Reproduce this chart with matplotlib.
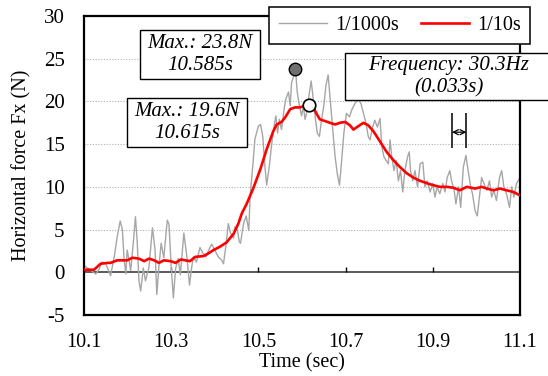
import numpy as np
import matplotlib
matplotlib.use('Agg')
import matplotlib.pyplot as plt
from matplotlib.patches import Rectangle

# 1/1000s raw signal
raw_t = [10.100, 10.111, 10.127, 10.134, 10.142, 10.150, 10.161, 10.170, 10.176, 10.183,
         10.188, 10.192, 10.196, 10.199, 10.203, 10.207, 10.213, 10.218, 10.222, 10.226,
         10.230, 10.236, 10.241, 10.249, 10.257, 10.263, 10.267, 10.272, 10.277, 10.283,
         10.291, 10.295, 10.300, 10.305, 10.310, 10.316, 10.321, 10.329, 10.336, 10.342,
         10.347, 10.351, 10.358, 10.366, 10.372, 10.380, 10.385, 10.393, 10.401, 10.408,
         10.416, 10.420, 10.426, 10.431, 10.436, 10.443, 10.446, 10.452, 10.456, 10.459,
         10.466, 10.472, 10.478, 10.481, 10.487, 10.492, 10.500, 10.505, 10.510, 10.515,
         10.519, 10.525, 10.530, 10.536, 10.540, 10.544, 10.548, 10.553, 10.559, 10.563,
         10.569, 10.573, 10.576, 10.580, 10.585, 10.589, 10.594, 10.599, 10.603, 10.607,
         10.611, 10.616, 10.621, 10.624, 10.630, 10.635, 10.640, 10.645, 10.650, 10.655,
         10.660, 10.670, 10.676, 10.681, 10.686, 10.691, 10.696, 10.702, 10.709, 10.714,
         10.722, 10.729, 10.735, 10.741, 10.747, 10.752, 10.756, 10.762, 10.767, 10.773,
         10.779, 10.783, 10.788, 10.793, 10.798, 10.802, 10.806, 10.811, 10.816, 10.821,
         10.826, 10.831, 10.836, 10.842, 10.846, 10.849, 10.854, 10.859, 10.865, 10.871,
         10.877, 10.882, 10.887, 10.894, 10.900, 10.905, 10.910, 10.916, 10.923, 10.928,
         10.933, 10.939, 10.943, 10.949, 10.953, 10.959, 10.964, 10.970, 10.976, 10.981,
         10.987, 10.991, 10.997, 11.002, 11.007, 11.012, 11.017, 11.024, 11.030, 11.035,
         11.040, 11.046, 11.053, 11.058, 11.063, 11.069, 11.076, 11.081, 11.086, 11.092,
         11.098]
raw_f = [0.8, 0.4, -0.2, 0.3, 1.2, 1.0, -0.4, 2.0, 4.1, 6.0,
         5.0, 1.5, -0.2, 2.6, 1.5, 0.2, 3.4, 6.5, 3.6, -1.0,
         -2.2, 0.5, -1.0, 0.6, 5.2, 2.6, -2.6, 0.8, 3.4, 1.7,
         6.1, 5.6, 0.6, -3.0, 0.4, 1.6, -0.3, 4.6, 1.8, -1.5,
         0.6, 1.8, 1.2, 2.9, 2.3, 1.8, 2.5, 3.3, 2.5, 1.8,
         1.4, 1.0, 3.3, 5.7, 4.6, 4.0, 5.3, 4.9, 3.6, 3.4,
         5.7, 6.6, 4.9, 8.9, 12.4, 15.6, 17.1, 17.3, 15.9, 12.4,
         10.2, 12.4, 14.8, 17.1, 18.3, 16.3, 17.9, 16.7, 19.1, 20.3,
         21.1, 19.5, 22.2, 22.8, 23.8, 21.1, 19.5, 18.3, 19.5, 17.9,
         18.7, 20.7, 22.4, 21.1, 18.3, 16.3, 15.9, 17.9, 19.5, 21.9,
         23.1, 17.0, 13.5, 11.5, 10.2, 13.1, 16.3, 18.6, 18.2, 19.0,
         19.8, 20.2, 19.8, 18.6, 17.4, 15.9, 15.5, 17.0, 17.8, 17.0,
         18.0, 14.7, 13.5, 13.1, 12.7, 15.5, 13.5, 11.9, 13.1, 10.7,
         11.9, 9.4, 11.9, 13.5, 14.1, 11.9, 10.7, 11.9, 10.0, 12.7,
         12.9, 10.0, 10.7, 9.4, 10.4, 8.8, 10.0, 9.2, 10.4, 9.4,
         11.1, 11.9, 10.7, 9.6, 8.0, 10.0, 7.6, 12.3, 13.7, 11.9,
         10.0, 9.2, 7.2, 6.6, 8.8, 11.1, 10.4, 9.6, 10.7, 8.8,
         9.6, 8.4, 11.1, 11.9, 10.0, 9.2, 7.6, 10.0, 8.8, 10.4,
         10.9]

# 1/10s averaged signal
avg_t = [10.100, 10.123, 10.138, 10.154, 10.161, 10.176, 10.199, 10.211, 10.226, 10.238,
         10.249, 10.261, 10.272, 10.283, 10.299, 10.310, 10.322, 10.343, 10.355, 10.374,
         10.385, 10.397, 10.412, 10.427, 10.443, 10.454, 10.462, 10.473, 10.488, 10.504,
         10.519, 10.534, 10.542, 10.553, 10.561, 10.573, 10.584, 10.595, 10.607, 10.615,
         10.626, 10.634, 10.641, 10.653, 10.664, 10.676, 10.687, 10.699, 10.710, 10.718,
         10.729, 10.741, 10.752, 10.764, 10.779, 10.794, 10.810, 10.825, 10.840, 10.855,
         10.871, 10.894, 10.916, 10.932, 10.947, 10.962, 10.978, 10.997, 11.012, 11.024,
         11.039, 11.054, 11.069, 11.085, 11.100]
avg_f = [0.3, 0.3, 1.0, 1.1, 1.1, 1.4, 1.4, 1.7, 1.6, 1.3,
         1.6, 1.4, 1.1, 1.4, 1.3, 1.1, 1.5, 1.3, 1.8, 1.9,
         2.2, 2.6, 3.0, 3.5, 4.5, 5.7, 6.9, 8.0, 9.8, 12.0,
         14.4, 16.5, 17.3, 17.6, 18.1, 19.1, 19.3, 19.3, 19.5, 19.6,
         19.3, 18.5, 17.9, 17.7, 17.5, 17.3, 17.5, 17.6, 17.2, 16.7,
         17.1, 17.5, 17.2, 16.5, 15.3, 14.1, 13.1, 12.3, 11.6, 11.1,
         10.7, 10.3, 10.0, 10.0, 9.9, 9.6, 10.0, 9.8, 10.0, 9.8,
         9.6, 9.8, 9.6, 9.4, 9.0]

max_raw = (10.585, 23.8)
max_avg = (10.615, 19.6)
period = (10.944, 10.977)

xticks = [10.1, 10.3, 10.5, 10.7, 10.9, 11.1]
yticks = [-5, 0, 5, 10, 15, 20, 25, 30]

plt.rcParams['font.family'] = ['Liberation Serif', 'DejaVu Serif']
plt.rcParams['axes.unicode_minus'] = False

W, H = 548, 376
fig = plt.figure(figsize=(W / 100, H / 100), dpi=100)
ax = fig.add_axes([84 / W, 1 - 315 / H, 436 / W, 299 / H])

for y in [5, 10, 15, 20, 25]:
    ax.axhline(y, color='#b0b0b0', lw=0.8, ls=(0, (1, 1.5)), zorder=0)
ax.axhline(0, color='#5a5a5a', lw=1.4, zorder=1)
ax.vlines([10.3, 10.5, 10.7, 10.9], 0, 0.6, color='black', lw=1.0, zorder=1)

ax.plot(raw_t, raw_f, color='#a6a6a6', lw=1.0, label='1/1000s', zorder=2)
ax.plot(avg_t, avg_f, color='#ff0000', lw=1.9, label='1/10s', zorder=3)

ax.plot(*max_raw, 'o', ms=9, mfc='#707070', mec='black', mew=1.0, zorder=5)
ax.plot(*max_avg, 'o', ms=9, mfc='white', mec='black', mew=1.2, zorder=5)

# period marker
ax.vlines(period, 14.5, 18.6, color='black', lw=1.1, zorder=4)
ax.annotate('', xy=(period[0], 16.4), xytext=(period[1], 16.4),
            arrowprops=dict(arrowstyle='<->', color='black', lw=0.9,
                            shrinkA=0, shrinkB=0, mutation_scale=9))


# text boxes, placed in figure pixels
def text_box(x0, y0, x1, y1, txt, cx=None):
    fig.patches.append(Rectangle((x0 / W, 1 - y1 / H), (x1 - x0) / W, (y1 - y0) / H,
                                 transform=fig.transFigure, fc='white', ec='black',
                                 lw=1.0, zorder=6))
    cx = (x0 + x1) / 2 if cx is None else cx
    fig.text(cx / W, 1 - (y0 + y1) / 2 / H, txt, ha='center', va='center',
             fontsize=15, style='italic', linespacing=1.2, zorder=7)


text_box(140, 30, 260, 79, 'Max.: 23.8N\n10.585s')
text_box(127, 98, 247, 147, 'Max.: 19.6N\n10.615s')
text_box(345, 53, 560, 100, 'Frequency: 30.3Hz\n(0.033s)', cx=448.5)

ax.set_xlim(10.1, 11.1)
ax.set_ylim(-5, 30)
ax.set_xticks(xticks)
ax.set_xticklabels([f'{x:.1f}' for x in xticks])
ax.set_yticks(yticks)
ax.tick_params(length=0, labelsize=14.5)
ax.tick_params(axis='y', pad=14, labelsize=15)
ax.tick_params(axis='x', pad=13)
for s in ax.spines.values():
    s.set_linewidth(1.6)
ax.set_xlabel('Time (sec)', fontsize=14.5, labelpad=1)
ax.set_ylabel('Horizontal force Fx (N)', fontsize=14.5, labelpad=9)

leg = fig.legend(loc='upper right', bbox_to_anchor=(530 / W, 1 - 7 / H), ncol=2,
                 fontsize=14.5, frameon=True, fancybox=False, edgecolor='black',
                 framealpha=1, handlelength=2.4, columnspacing=1.1,
                 borderpad=0.45, handletextpad=0.4, borderaxespad=0)
leg.get_frame().set_linewidth(1.1)

fig.savefig('out.png', dpi=100)
